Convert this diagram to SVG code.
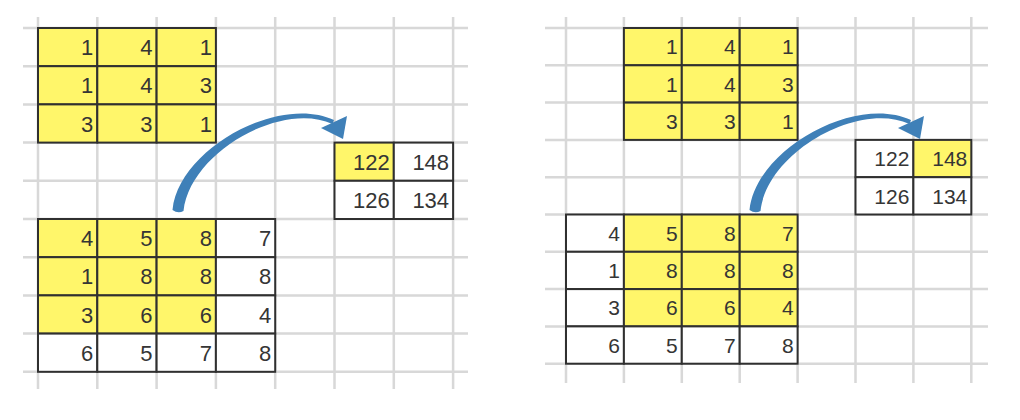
<svg xmlns="http://www.w3.org/2000/svg" xmlns:xlink="http://www.w3.org/1999/xlink" width="1020" height="420" viewBox="0 0 1020 420">
<style>
.grid{stroke:#d8d8d8;stroke-width:2.5;fill:none}
.c{fill:#ffffff;stroke:#303030;stroke-width:2}
.y{fill:#fff66a;stroke:#303030;stroke-width:2}
.t{font-family:"Liberation Sans",Arial,sans-serif;font-size:22px;fill:#353535;text-anchor:end}
.tr{font-family:"Liberation Sans",Arial,sans-serif;font-size:21px;fill:#353535;text-anchor:end}
.arr{fill:#3f80b8}
</style>
<defs>
<g id="curvedArrow">
<path class="arr" d="M172.5,210 C178.5,149 279,94 334,120 L332.5,124 C282,100.5 190,152 183.5,211 Q178,214 172.5,210 Z"/>
<polygon class="arr" points="347,116 321,128 343,139"/>
</g>
</defs>
<rect width="1020" height="420" fill="#ffffff"/>
<g id="grid-left">
<path class="grid" d="M23,28H468M23,66.2H468M23,104.4H468M23,142.6H468M23,180.8H468M23,219H468M23,257.2H468M23,295.4H468M23,333.6H468M23,371.8H468"/>
<path class="grid" d="M38,17V389M97.3,17V389M156.6,17V389M215.9,17V389M275.2,17V389M334.5,17V389M393.8,17V389M453.1,17V389"/>
</g>
<g id="grid-right">
<path class="grid" d="M545,28H988M545,65.3H988M545,102.6H988M545,139.9H988M545,177.2H988M545,214.5H988M545,251.8H988M545,289.1H988M545,326.4H988M545,363.7H988"/>
<path class="grid" d="M566,17V383M623.9,17V383M681.8,17V383M739.7,17V383M797.6,17V383M855.5,17V383M913.4,17V383M971.3,17V383"/>
</g>
<g id="left-kernel">
<rect class="y" x="38" y="28" width="59.3" height="38.2"/><rect class="y" x="97.3" y="28" width="59.3" height="38.2"/><rect class="y" x="156.6" y="28" width="59.3" height="38.2"/>
<rect class="y" x="38" y="66.2" width="59.3" height="38.2"/><rect class="y" x="97.3" y="66.2" width="59.3" height="38.2"/><rect class="y" x="156.6" y="66.2" width="59.3" height="38.2"/>
<rect class="y" x="38" y="104.4" width="59.3" height="38.2"/><rect class="y" x="97.3" y="104.4" width="59.3" height="38.2"/><rect class="y" x="156.6" y="104.4" width="59.3" height="38.2"/>
<text class="t" x="93.3" y="55.2">1</text><text class="t" x="152.6" y="55.2">4</text><text class="t" x="211.9" y="55.2">1</text>
<text class="t" x="93.3" y="93.4">1</text><text class="t" x="152.6" y="93.4">4</text><text class="t" x="211.9" y="93.4">3</text>
<text class="t" x="93.3" y="131.6">3</text><text class="t" x="152.6" y="131.6">3</text><text class="t" x="211.9" y="131.6">1</text>
</g>
<g id="left-input">
<rect class="y" x="38" y="219" width="59.3" height="38.2"/><rect class="y" x="97.3" y="219" width="59.3" height="38.2"/><rect class="y" x="156.6" y="219" width="59.3" height="38.2"/><rect class="c" x="215.9" y="219" width="59.3" height="38.2"/>
<rect class="y" x="38" y="257.2" width="59.3" height="38.2"/><rect class="y" x="97.3" y="257.2" width="59.3" height="38.2"/><rect class="y" x="156.6" y="257.2" width="59.3" height="38.2"/><rect class="c" x="215.9" y="257.2" width="59.3" height="38.2"/>
<rect class="y" x="38" y="295.4" width="59.3" height="38.2"/><rect class="y" x="97.3" y="295.4" width="59.3" height="38.2"/><rect class="y" x="156.6" y="295.4" width="59.3" height="38.2"/><rect class="c" x="215.9" y="295.4" width="59.3" height="38.2"/>
<rect class="c" x="38" y="333.6" width="59.3" height="38.2"/><rect class="c" x="97.3" y="333.6" width="59.3" height="38.2"/><rect class="c" x="156.6" y="333.6" width="59.3" height="38.2"/><rect class="c" x="215.9" y="333.6" width="59.3" height="38.2"/>
<text class="t" x="93.3" y="246.2">4</text><text class="t" x="152.6" y="246.2">5</text><text class="t" x="211.9" y="246.2">8</text><text class="t" x="271.2" y="246.2">7</text>
<text class="t" x="93.3" y="284.4">1</text><text class="t" x="152.6" y="284.4">8</text><text class="t" x="211.9" y="284.4">8</text><text class="t" x="271.2" y="284.4">8</text>
<text class="t" x="93.3" y="322.6">3</text><text class="t" x="152.6" y="322.6">6</text><text class="t" x="211.9" y="322.6">6</text><text class="t" x="271.2" y="322.6">4</text>
<text class="t" x="93.3" y="360.8">6</text><text class="t" x="152.6" y="360.8">5</text><text class="t" x="211.9" y="360.8">7</text><text class="t" x="271.2" y="360.8">8</text>
</g>
<g id="left-output">
<rect class="y" x="334.5" y="142.6" width="59.3" height="38.2"/><rect class="c" x="393.8" y="142.6" width="59.3" height="38.2"/>
<rect class="c" x="334.5" y="180.8" width="59.3" height="38.2"/><rect class="c" x="393.8" y="180.8" width="59.3" height="38.2"/>
<text class="t" x="389.8" y="169.8">122</text><text class="t" x="449.1" y="169.8">148</text>
<text class="t" x="389.8" y="208">126</text><text class="t" x="449.1" y="208">134</text>
</g>
<g id="right-kernel">
<rect class="y" x="623.9" y="28" width="57.9" height="37.3"/><rect class="y" x="681.8" y="28" width="57.9" height="37.3"/><rect class="y" x="739.7" y="28" width="57.9" height="37.3"/>
<rect class="y" x="623.9" y="65.3" width="57.9" height="37.3"/><rect class="y" x="681.8" y="65.3" width="57.9" height="37.3"/><rect class="y" x="739.7" y="65.3" width="57.9" height="37.3"/>
<rect class="y" x="623.9" y="102.6" width="57.9" height="37.3"/><rect class="y" x="681.8" y="102.6" width="57.9" height="37.3"/><rect class="y" x="739.7" y="102.6" width="57.9" height="37.3"/>
<text class="tr" x="677.8" y="54.3">1</text><text class="tr" x="735.7" y="54.3">4</text><text class="tr" x="793.6" y="54.3">1</text>
<text class="tr" x="677.8" y="91.6">1</text><text class="tr" x="735.7" y="91.6">4</text><text class="tr" x="793.6" y="91.6">3</text>
<text class="tr" x="677.8" y="128.9">3</text><text class="tr" x="735.7" y="128.9">3</text><text class="tr" x="793.6" y="128.9">1</text>
</g>
<g id="right-input">
<rect class="c" x="566" y="214.5" width="57.9" height="37.3"/><rect class="y" x="623.9" y="214.5" width="57.9" height="37.3"/><rect class="y" x="681.8" y="214.5" width="57.9" height="37.3"/><rect class="y" x="739.7" y="214.5" width="57.9" height="37.3"/>
<rect class="c" x="566" y="251.8" width="57.9" height="37.3"/><rect class="y" x="623.9" y="251.8" width="57.9" height="37.3"/><rect class="y" x="681.8" y="251.8" width="57.9" height="37.3"/><rect class="y" x="739.7" y="251.8" width="57.9" height="37.3"/>
<rect class="c" x="566" y="289.1" width="57.9" height="37.3"/><rect class="y" x="623.9" y="289.1" width="57.9" height="37.3"/><rect class="y" x="681.8" y="289.1" width="57.9" height="37.3"/><rect class="y" x="739.7" y="289.1" width="57.9" height="37.3"/>
<rect class="c" x="566" y="326.4" width="57.9" height="37.3"/><rect class="c" x="623.9" y="326.4" width="57.9" height="37.3"/><rect class="c" x="681.8" y="326.4" width="57.9" height="37.3"/><rect class="c" x="739.7" y="326.4" width="57.9" height="37.3"/>
<text class="tr" x="619.9" y="240.8">4</text><text class="tr" x="677.8" y="240.8">5</text><text class="tr" x="735.7" y="240.8">8</text><text class="tr" x="793.6" y="240.8">7</text>
<text class="tr" x="619.9" y="278.1">1</text><text class="tr" x="677.8" y="278.1">8</text><text class="tr" x="735.7" y="278.1">8</text><text class="tr" x="793.6" y="278.1">8</text>
<text class="tr" x="619.9" y="315.4">3</text><text class="tr" x="677.8" y="315.4">6</text><text class="tr" x="735.7" y="315.4">6</text><text class="tr" x="793.6" y="315.4">4</text>
<text class="tr" x="619.9" y="352.7">6</text><text class="tr" x="677.8" y="352.7">5</text><text class="tr" x="735.7" y="352.7">7</text><text class="tr" x="793.6" y="352.7">8</text>
</g>
<g id="right-output">
<rect class="c" x="855.5" y="139.9" width="57.9" height="37.3"/><rect class="y" x="913.4" y="139.9" width="57.9" height="37.3"/>
<rect class="c" x="855.5" y="177.2" width="57.9" height="37.3"/><rect class="c" x="913.4" y="177.2" width="57.9" height="37.3"/>
<text class="tr" x="909.4" y="166.2">122</text><text class="tr" x="967.3" y="166.2">148</text>
<text class="tr" x="909.4" y="203.5">126</text><text class="tr" x="967.3" y="203.5">134</text>
</g>
<g id="connectors">
<use xlink:href="#curvedArrow"/>
<use xlink:href="#curvedArrow" transform="translate(577,0)"/>
</g>
</svg>
